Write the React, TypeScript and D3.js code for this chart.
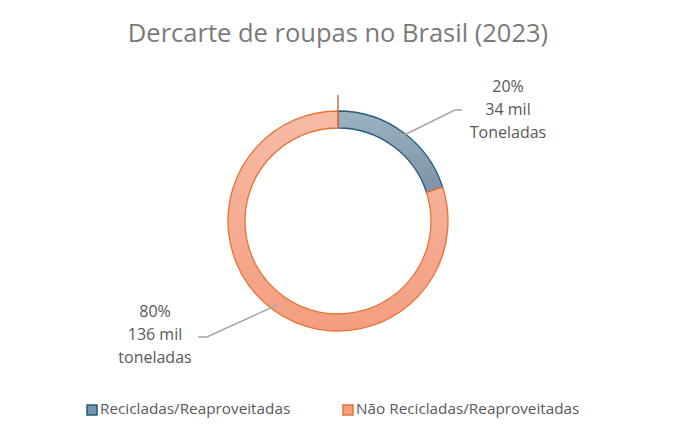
import React from 'react';
import * as d3 from 'd3';

const categories = ['Recicladas/Reaproveitadas', 'Não Recicladas/Reaproveitadas'];
const values = [34, 136]; // mil toneladas
const labelLines = [
	['20%', '34 mil', 'Toneladas'],
	['80%', '136 mil', 'toneladas'],
];
const title = 'Dercarte de roupas no Brasil (2023)';

const fills = [
	['#9db2c2', '#7b94a7'],
	['#f6bba6', '#f49e80'],
];
const strokes = ['#1f5c7f', '#e97132'];

export default function App() {
	const width = 675;
	const height = 438;
	const cx = 338;
	const cy = 221;
	const outer = 110;
	const inner = 93;

	const pie = d3.pie<number>().sort(null).value((d) => d);
	const arcs = pie(values);
	const arc = d3.arc<d3.PieArcDatum<number>>().innerRadius(inner).outerRadius(outer);

	// leader lines (start on ring, elbow, end)
	const leaders = [
		[[398, 138], [455, 110], [462, 110]],
		[[277, 305], [207, 337], [198, 337]],
	];
	const labelPos = [
		[508, 88],
		[155, 313],
	];
	const line = d3.line();

	return (
		<svg width={width} height={height} style={{ position: 'absolute', left: 0, top: 0, fontFamily: 'Open Sans, sans-serif' }}>
			<defs>
				{fills.map((f, i) => (
					<linearGradient key={i} id={`g${i}`} x1="0" y1="0" x2="0" y2="1">
						<stop offset="0" stopColor={f[0]} />
						<stop offset="1" stopColor={f[1]} />
					</linearGradient>
				))}
			</defs>
			<rect width={width} height={height} fill="#fff" />
			<text x={cx} y={42} textAnchor="middle" fontSize={25.5} fill="#7a7a7a">
				{title}
			</text>
			<g transform={`translate(${cx},${cy})`}>
				{arcs.map((a, i) => (
					<path key={i} d={arc(a) || ''} fill={`url(#g${i})`} stroke={strokes[i]} strokeWidth={1.3} />
				))}
				<line x1={0} y1={-126} x2={0} y2={-inner} stroke="#c8703f" strokeWidth={1.5} />
			</g>
			{leaders.map((l, i) => (
				<path key={i} d={line(l as [number, number][]) || ''} fill="none" stroke="#a6a6a6" strokeWidth={1.5} />
			))}
			{labelLines.map((ls, i) =>
				ls.map((t, j) => (
					<text key={`${i}-${j}`} x={labelPos[i][0]} y={labelPos[i][1] + j * 23} textAnchor="middle" dominantBaseline="middle" fontSize={16} fill="#595959">
						{t}
					</text>
				))
			)}
			{categories.map((c, i) => {
				const x = i === 0 ? 87 : 343;
				return (
					<g key={c} transform={`translate(${x},410)`}>
						<rect x={0} y={-5} width={10} height={10} fill={fills[i][1]} stroke={strokes[i]} strokeWidth={1.5} />
						<text x={13} y={0} dominantBaseline="middle" fontSize={15.3} fill="#595959">
							{c}
						</text>
					</g>
				);
			})}
		</svg>
	);
}
